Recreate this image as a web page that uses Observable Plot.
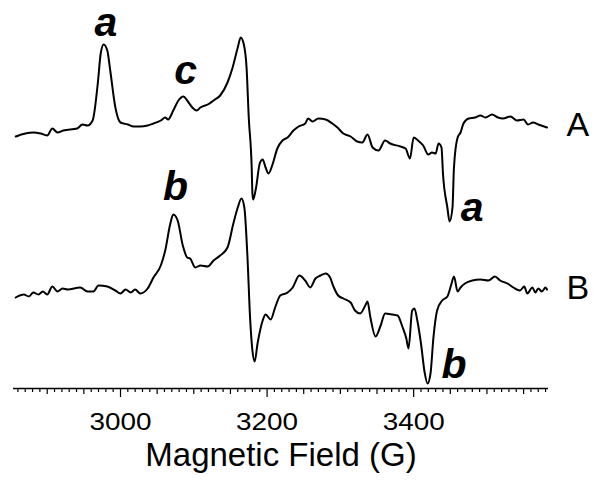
<!DOCTYPE html>
<html>
<head>
<meta charset="utf-8">
<script src="https://cdn.jsdelivr.net/npm/d3@7"></script>
<script src="https://cdn.jsdelivr.net/npm/@observablehq/plot@0.6"></script>
<style>
  html, body { margin: 0; padding: 0; background: #fff; }
  svg { display: block; }
</style>
</head>
<body>
<div id="chart"></div>
<script>
// Magnetic field (G) and intensity (arbitrary units) for spectrum A
const fieldA = [2857,2870,2881,2891,2900,2907,2914,2922,2941,2948,2955,2962,2969,2973,2977,2982,2986,2993,3000,3010,3018,3027,3037,3045,3055,3061,3065,3072,3079,3086,3091,3098,3104,3109,3119,3127,3136,3146,3153,3160,3164,3168,3172,3175,3179,3180,3181,3185,3190,3194,3198,3202,3207,3214,3221,3228,3236,3243,3252,3256,3262,3270,3280,3289,3296,3304,3314,3323,3330,3337,3344,3352,3361,3368,3382,3389,3395,3400,3406,3413,3420,3425,3430,3434,3438,3440,3446,3449,3453,3455,3460,3464,3468,3475,3484,3491,3498,3507,3515,3522,3532,3541,3550,3556,3563,3570,3582];
const intensityA = [-6,-3,-2,-3,-5,2,-2,0,2,6,5,10,47,77,86,80,60,23,8,6,4,4,5,7,10,13,11,20,30,34,30,23,20,23,26,30,35,48,63,83,93,87,63,13,-37,-63,-69,-57,-33,-29,-37,-43,-35,-18,-10,-7,0,4,7,12,9,12,11,7,3,-3,-6,-11,-12,-4,-17,-20,-10,-13,-16,-18,-28,-7,-10,-15,-24,-22,-23,-13,-17,-43,-77,-91,-77,-37,-7,-2,7,12,13,15,13,16,13,12,14,10,11,6,8,6,3];

// Magnetic field (G) and intensity (arbitrary units) for spectrum B
const fieldB = [2857,2868,2875,2881,2888,2894,2900,2907,2914,2921,2928,2945,2955,2963,2970,2982,2993,3000,3007,3014,3020,3027,3037,3045,3055,3061,3068,3072,3078,3085,3091,3095,3102,3109,3119,3127,3136,3146,3154,3160,3165,3169,3173,3177,3180,3183,3187,3194,3198,3205,3211,3218,3228,3235,3244,3252,3259,3266,3273,3280,3286,3290,3297,3304,3314,3320,3327,3334,3337,3341,3348,3355,3361,3371,3378,3385,3390,3393,3398,3401,3405,3410,3415,3419,3423,3427,3432,3439,3446,3451,3455,3460,3464,3470,3480,3491,3502,3511,3518,3528,3536,3545,3551,3555,3562,3566,3570,3575,3580,3582];
const intensityB = [-7,-4,-6,-2,-4,-1,-4,4,-1,2,1,3,-1,-1,5,4,0,-3,1,-2,1,-3,2,13,25,40,67,76,70,45,33,32,23,25,24,30,35,43,67,83,92,83,37,-30,-60,-71,-53,-30,-24,-29,-17,-5,-2,3,15,10,3,12,15,17,13,5,-5,-8,-12,-20,-23,-15,-11,-27,-46,-35,-23,-24,-25,-37,-48,-58,-20,-18,-30,-53,-82,-93,-83,-47,-20,-10,-6,5,14,-1,3,7,10,11,10,14,10,7,3,0,4,-3,3,-2,2,-1,3,1];

// Vertical offset of spectrum A above spectrum B
const offsetA = 160;

// Peak annotations
const peakLabels = ["a", "c", "b", "a", "b"];
const peakFields = [2980, 3089, 3075, 3480, 3455];
const peakIntensities = [255, 207, 91, 70, -87];

// Trace names
const traceLabels = ["A", "B"];
const traceFields = [3624, 3624];
const traceIntensities = [155, -8];

// Axis ticks
const majorTicks = [3000, 3200, 3400];
const allTicks = d3.range(2860, 3581, 10);
const mediumTicks = allTicks.filter(t => t % 50 === 0 && !majorTicks.includes(t));
const minorTicks = allTicks.filter(t => t % 50 !== 0);
const xLabel = "Magnetic Field (G)";

const dataA = fieldA.map((x, i) => ({x, y: intensityA[i] + offsetA}));
const dataB = fieldB.map((x, i) => ({x, y: intensityB[i]}));
const peaks = peakLabels.map((t, i) => ({t, x: peakFields[i], y: peakIntensities[i]}));
const traces = traceLabels.map((t, i) => ({t, x: traceFields[i], y: traceIntensities[i]}));

const font = "Liberation Sans, Arial, Helvetica, sans-serif";

const chart = Plot.plot({
  width: 601,
  height: 485,
  marginLeft: 13,
  marginRight: 53,
  marginTop: 0,
  marginBottom: 97,
  style: {fontFamily: font, background: "#fff", color: "#000"},
  x: {domain: [2854, 3584]},
  y: {domain: [-98, 290], axis: null},
  marks: [
    Plot.ruleY([-98], {stroke: "#000", strokeWidth: 1.5}),
    Plot.axisX(minorTicks, {tickSize: 4, tickFormat: () => "", label: null, stroke: "#000", strokeWidth: 1.2}),
    Plot.axisX(mediumTicks, {tickSize: 6, tickFormat: () => "", label: null, stroke: "#000", strokeWidth: 1.2}),
    Plot.axisX(majorTicks, {tickSize: 9, tickFormat: () => "", label: null, stroke: "#000", strokeWidth: 1.2}),
    Plot.text(majorTicks, {x: d => d, frameAnchor: "bottom", text: d => String(d), dy: 41, lineAnchor: "bottom", fontSize: 24, fill: "#000"}),
    Plot.text([xLabel], {frameAnchor: "bottom", text: d => d, dy: 77, lineAnchor: "bottom", fontSize: 33, fill: "#000"}),
    Plot.line(dataA, {x: "x", y: "y", curve: "monotone-x", stroke: "#000", strokeWidth: 2}),
    Plot.line(dataB, {x: "x", y: "y", curve: "monotone-x", stroke: "#000", strokeWidth: 2}),
    Plot.text(peaks, {x: "x", y: "y", text: "t", lineAnchor: "bottom", fontSize: 41, fontWeight: "bold", fontStyle: "italic", fill: "#000"}),
    Plot.text(traces, {x: "x", y: "y", text: "t", lineAnchor: "bottom", fontSize: 34, fill: "#000"})
  ]
});

// The reference's tick labels are drawn slightly wider than the font's natural width
const tickStrings = majorTicks.map(String);
d3.select(chart).selectAll("text")
  .filter(function() { return tickStrings.includes(this.textContent); })
  .attr("textLength", 62)
  .attr("lengthAdjust", "spacingAndGlyphs");

document.getElementById("chart").appendChild(chart);
</script>
</body>
</html>
